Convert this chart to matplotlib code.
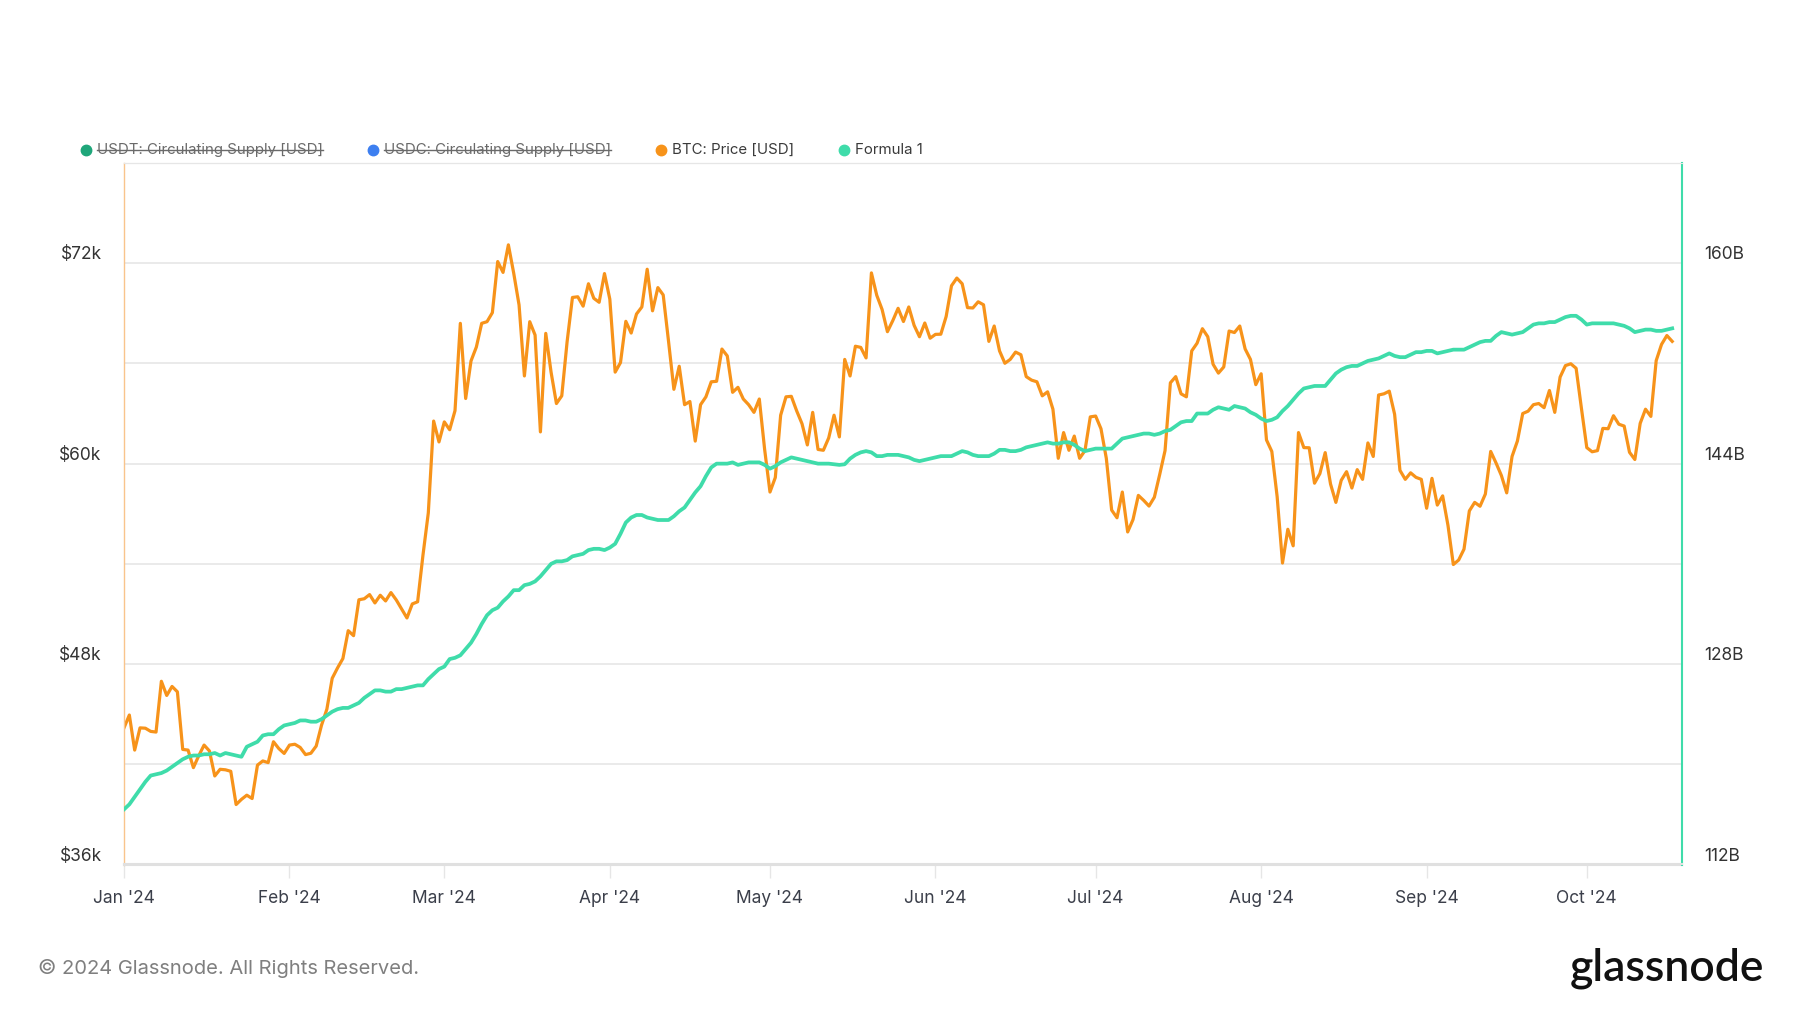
import matplotlib
matplotlib.use('Agg')
import matplotlib.pyplot as plt
import matplotlib.dates as mdates
from matplotlib.lines import Line2D
import pandas as pd

plt.rcParams['font.family'] = ['Inter', 'DejaVu Sans']

# BTC daily price [USD], 2024-01-01 .. 2024-10-17
btc_price = [
    44180, 44950, 42850, 44180, 44160, 43970, 43930, 46970, 46120, 46660, 46340, 42890, 42850, 41800, 42510, 43150,
    42800, 41300, 41700, 41670, 41580, 39590, 39900, 40150, 39950, 41950, 42200, 42100, 43350, 42940, 42650,  # Jan
    43150, 43200, 43010, 42580, 42660, 43090, 44340, 45300, 47150, 47770, 48330, 50000, 49700, 51850, 51910, 52160,
    51660, 52120, 51780, 52280, 51840, 51300, 50760, 51600, 51730, 54520, 57050, 62550, 61300,  # Feb
    62500, 62030, 63170, 68400, 63900, 66150, 66980, 68400, 68500, 69040, 72100, 71450, 73100, 71400, 69500, 65250,
    68500, 67700, 61900, 67800, 65470, 63600, 64060, 67300, 69950, 69990, 69430, 70770, 69900, 69660, 71380,  # Mar
    69850, 65480, 66050, 68520, 67820, 68960, 69380, 71640, 69150, 70540, 70100, 67320, 64450, 65830, 63530, 63720,
    61350, 63530, 64000, 64900, 64930, 66860, 66450, 64270, 64570, 63870, 63530, 63070, 63870, 60850,  # Apr
    58300, 59170, 62900, 64000, 64030, 63160, 62390, 61120, 63070, 60850, 60800, 61540, 62900, 61600, 66240, 65250,
    67030, 66960, 66330, 71420, 70080, 69230, 67900, 68560, 69300, 68510, 69380, 68280, 67600, 68420, 67510,  # May
    67740, 67750, 68810, 70650, 71110, 70770, 69340, 69320, 69690, 69510, 67320, 68240, 66750, 66010, 66240, 66680,
    66520, 65210, 65000, 64900, 64060, 64300, 63260, 60320, 61860, 60800, 61650, 60320, 60780, 62800,  # Jun
    62850, 62090, 60320, 57220, 56760, 58300, 55910, 56650, 58100, 57800, 57460, 57990, 59350, 60780, 64840, 65210,
    64180, 64000, 66750, 67210, 68080, 67600, 65950, 65420, 65790, 67940, 67850, 68240, 66870, 66240, 64730,  # Jul
    65380, 61420, 60730, 58020, 54050, 56070, 55080, 61860, 60960, 60950, 58830, 59400, 60660, 58780, 57680, 59000,
    59520, 58540, 59640, 59060, 61240, 60430, 64110, 64180, 64340, 62960, 59600, 59060, 59450, 59180, 59060,  # Aug
    57330, 59120, 57520, 58070, 56300, 53960, 54230, 54880, 57170, 57680, 57450, 58180, 60730, 60040, 59290, 58250,
    60430, 61350, 63000, 63140, 63530, 63600, 63350, 64380, 63070, 65180, 65870, 65980, 65710, 63300,  # Sep
    60960, 60710, 60780, 62110, 62090, 62870, 62360, 62250, 60680, 60250, 62410, 63260, 62830, 66170, 67140, 67670,
    67320,  # Oct
]

# Formula 1 (USDT + USDC circulating supply) [billion USD]
formula_1 = [
    116.4, 116.8, 117.4, 118.0, 118.6, 119.1, 119.2, 119.3, 119.5, 119.8, 120.1, 120.4, 120.6, 120.7, 120.7, 120.8,
    120.8, 120.9, 120.7, 120.9, 120.8, 120.7, 120.6, 121.4, 121.6, 121.8, 122.3, 122.4, 122.4, 122.8, 123.1,  # Jan
    123.2, 123.3, 123.5, 123.5, 123.4, 123.4, 123.6, 123.9, 124.2, 124.4, 124.5, 124.5, 124.7, 124.9, 125.3, 125.6,
    125.9, 125.9, 125.8, 125.8, 126.0, 126.0, 126.1, 126.2, 126.3, 126.3, 126.8, 127.2, 127.6,  # Feb
    127.8, 128.4, 128.5, 128.7, 129.2, 129.7, 130.4, 131.2, 131.9, 132.3, 132.5, 133.0, 133.4, 133.9, 133.9, 134.3,
    134.4, 134.6, 135.0, 135.5, 136.0, 136.2, 136.2, 136.3, 136.6, 136.7, 136.8, 137.1, 137.2, 137.2, 137.1,  # Mar
    137.3, 137.6, 138.4, 139.3, 139.7, 139.9, 139.9, 139.7, 139.6, 139.5, 139.5, 139.5, 139.8, 140.2, 140.5, 141.1,
    141.7, 142.2, 143.0, 143.7, 144.0, 144.0, 144.0, 144.1, 143.9, 144.0, 144.1, 144.1, 144.1, 143.9,  # Apr
    143.6, 143.8, 144.1, 144.3, 144.5, 144.4, 144.3, 144.2, 144.1, 144.0, 144.0, 144.0, 143.95, 143.9, 143.95, 144.4,
    144.7, 144.9, 145.0, 144.9, 144.6, 144.6, 144.7, 144.7, 144.7, 144.6, 144.5, 144.3, 144.2, 144.3, 144.4,  # May
    144.5, 144.6, 144.6, 144.6, 144.8, 145.0, 144.9, 144.7, 144.6, 144.6, 144.6, 144.8, 145.1, 145.1, 145.0, 145.0,
    145.1, 145.3, 145.4, 145.5, 145.6, 145.7, 145.6, 145.6, 145.7, 145.7, 145.5, 145.2, 145.0, 145.1,  # Jun
    145.2, 145.2, 145.2, 145.2, 145.6, 146.0, 146.1, 146.2, 146.3, 146.4, 146.4, 146.3, 146.4, 146.6, 146.7, 147.0,
    147.3, 147.4, 147.4, 148.0, 148.0, 148.0, 148.3, 148.5, 148.4, 148.3, 148.6, 148.5, 148.4, 148.1, 147.9,  # Jul
    147.6, 147.4, 147.5, 147.7, 148.2, 148.6, 149.1, 149.6, 150.0, 150.1, 150.2, 150.2, 150.2, 150.7, 151.2, 151.5,
    151.7, 151.8, 151.8, 152.0, 152.2, 152.3, 152.4, 152.6, 152.8, 152.6, 152.5, 152.5, 152.7, 152.9, 152.9,  # Aug
    153.0, 153.0, 152.8, 152.9, 153.0, 153.1, 153.1, 153.1, 153.3, 153.5, 153.7, 153.8, 153.8, 154.2, 154.5, 154.4,
    154.3, 154.4, 154.5, 154.8, 155.1, 155.2, 155.2, 155.3, 155.3, 155.5, 155.7, 155.8, 155.8, 155.5,  # Sep
    155.1, 155.2, 155.2, 155.2, 155.2, 155.2, 155.1, 155.0, 154.8, 154.5, 154.6, 154.7, 154.7, 154.6, 154.6, 154.7,
    154.8,  # Oct
]

dates = pd.date_range('2024-01-01', periods=len(btc_price), freq='D')

left_ticks = [36000, 48000, 60000, 72000]
left_labels = ['$36k', '$48k', '$60k', '$72k']
left_minor = [42000, 54000, 66000]
right_ticks = [112, 128, 144, 160]
right_labels = ['112B', '128B', '144B', '160B']

legend_names = ['USDT: Circulating Supply [USD]', 'USDC: Circulating Supply [USD]', 'BTC: Price [USD]', 'Formula 1']
legend_colors = ['#1fa67a', '#3d7ff0', '#f7931a', '#3fdcaa']
legend_off = [True, True, False, False]

ORANGE = '#f7931a'
GREEN = '#3fdcaa'
W, H = 1800, 1013

fig = plt.figure(figsize=(18, 10.13), dpi=100)
ax = fig.add_axes([124 / W, 148.5 / H, 1558 / W, 701.5 / H])
ax2 = ax.twinx()

ax.plot(dates, btc_price, color=ORANGE, lw=2.3)
ax2.plot(dates, formula_1, color=GREEN, lw=2.7)

ax.set_xlim(pd.Timestamp('2024-01-01'), pd.Timestamp('2024-10-18 20:00'))
ax.set_ylim(36000, 78000)
ax2.set_ylim(112, 168)

ax.set_yticks(left_ticks)
ax.set_yticklabels(left_labels)
ax.set_yticks(left_minor, minor=True)
ax2.set_yticks(right_ticks)
ax2.set_yticklabels(right_labels)

ax.grid(axis='y', which='both', color='#e6e6e6', lw=1.2)
ax.set_axisbelow(True)

ax.xaxis.set_major_locator(mdates.MonthLocator())
ax.xaxis.set_major_formatter(mdates.DateFormatter("%b '%y"))
ax.tick_params(axis='x', length=9, width=1, color='#e6e6e6', pad=9, labelsize=12.5, labelcolor='#3b3f4a')
ax.tick_params(axis='y', which='both', length=0, pad=16, labelsize=12.5, labelcolor='#333333')
ax2.tick_params(axis='y', length=0, pad=16, labelsize=12.5, labelcolor='#333333')
for lab in ax.get_yticklabels() + ax2.get_yticklabels():
    lab.set_verticalalignment('bottom')

for a in (ax, ax2):
    a.spines['top'].set_color('#e6e6e6')
    a.spines['bottom'].set_color('#e0e0e0')
    a.spines['bottom'].set_linewidth(1.5)
ax.spines['left'].set_color('#f9c48c')
ax.spines['left'].set_linewidth(1)
ax2.spines['left'].set_visible(False)
ax2.spines['right'].set_color(GREEN)
ax2.spines['right'].set_linewidth(1.5)
ax.spines['right'].set_visible(False)

# legend row above the plot
dot_x = [86, 373, 661, 844]
ly = 1 - 150 / H
texts = []
for x, name, col, off in zip(dot_x, legend_names, legend_colors, legend_off):
    fig.add_artist(Line2D([x / W], [ly], marker='o', markersize=7.5, color=col, lw=0,
                          transform=fig.transFigure))
    t = fig.text((x + 11) / W, ly, name, va='center', ha='left', fontsize=10.8,
                 color='#6a6a6a' if off else '#3a3a3a')
    texts.append((t, off))

fig.canvas.draw()
r = fig.canvas.get_renderer()
for t, off in texts:
    if off:
        bb = t.get_window_extent(r).transformed(fig.transFigure.inverted())
        ym = bb.y0 + bb.height * 0.47
        fig.add_artist(Line2D([bb.x0, bb.x1], [ym, ym], color='#6a6a6a', lw=1,
                              transform=fig.transFigure))

fig.text(38 / W, 1 - 968 / H, '\u00a9 2024 Glassnode. All Rights Reserved.', va='center', ha='left',
         fontsize=14.5, color='#7f7f7f')
fig.text(1764 / W, 1 - 980 / H, 'glassnode', va='baseline', ha='right', fontsize=32,
         fontweight='semibold', color='#111111', family=['Lato', 'DejaVu Sans'])

fig.savefig('out.png', dpi=100, facecolor='white')
